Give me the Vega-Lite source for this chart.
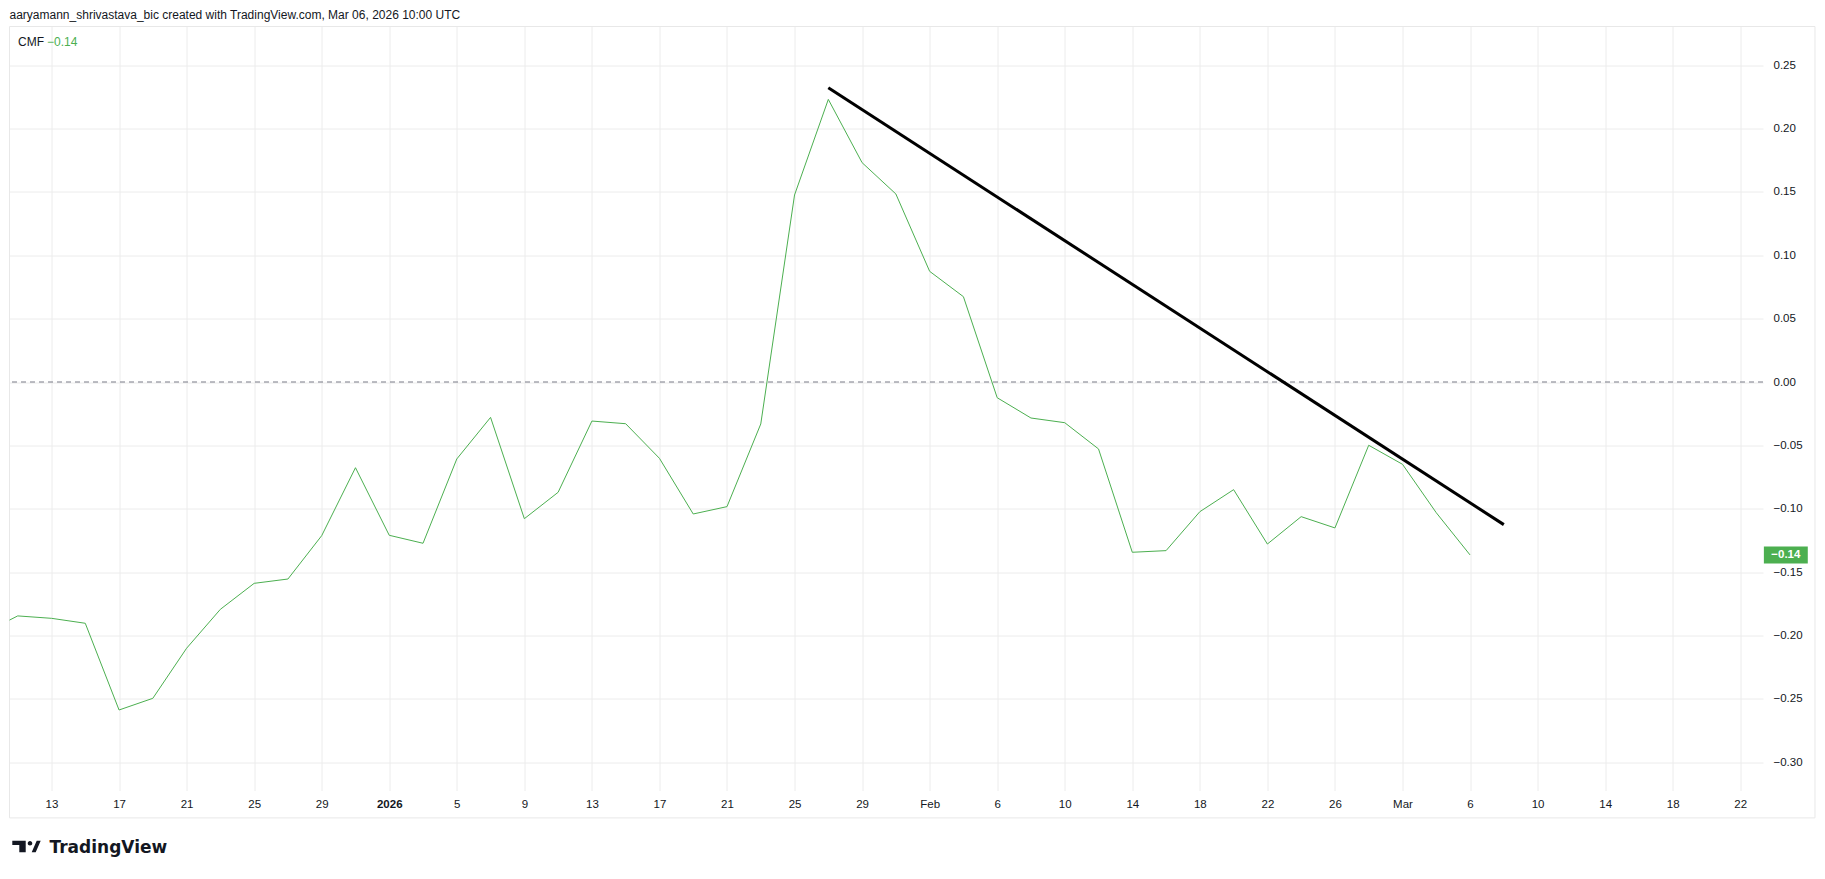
{
  "$schema": "https://vega.github.io/schema/vega-lite/v6.json",
  "background": "#ffffff",
  "autosize": {"type": "none"},
  "padding": {"left": 9.5, "top": 26.5, "right": 62, "bottom": 88.5},
  "width": 1753.5,
  "height": 764,
  "title": {
    "text": "aaryamann_shrivastava_bic created with TradingView.com, Mar 06, 2026 10:00 UTC",
    "anchor": "start",
    "frame": "group",
    "font": "Liberation Sans",
    "fontSize": 12,
    "fontWeight": "normal",
    "color": "#131722",
    "baseline": "alphabetic",
    "offset": 7,
    "dy": 12
  },
  "config": {
    "view": {"stroke": null},
    "axis": {"labelFont": "Liberation Sans", "labelColor": "#131722"}
  },
  "datasets": {
    "cmf": [
      {"bar": -2, "cmf": -0.198},
      {"bar": -1, "cmf": -0.1845},
      {"bar": 0, "cmf": -0.1864},
      {"bar": 1, "cmf": -0.1903},
      {"bar": 2, "cmf": -0.2587},
      {"bar": 3, "cmf": -0.2495},
      {"bar": 4, "cmf": -0.21},
      {"bar": 5, "cmf": -0.1793},
      {"bar": 6, "cmf": -0.1588},
      {"bar": 7, "cmf": -0.1554},
      {"bar": 8, "cmf": -0.1212},
      {"bar": 9, "cmf": -0.0676},
      {"bar": 10, "cmf": -0.1209},
      {"bar": 11, "cmf": -0.1272},
      {"bar": 12, "cmf": -0.0607},
      {"bar": 13, "cmf": -0.0279},
      {"bar": 14, "cmf": -0.1078},
      {"bar": 15, "cmf": -0.087},
      {"bar": 16, "cmf": -0.0308},
      {"bar": 17, "cmf": -0.0329},
      {"bar": 18, "cmf": -0.0602},
      {"bar": 19, "cmf": -0.1041},
      {"bar": 20, "cmf": -0.0983},
      {"bar": 21, "cmf": -0.0331},
      {"bar": 22, "cmf": 0.1475},
      {"bar": 23, "cmf": 0.2229},
      {"bar": 24, "cmf": 0.173},
      {"bar": 25, "cmf": 0.1483},
      {"bar": 26, "cmf": 0.0873},
      {"bar": 27, "cmf": 0.0673},
      {"bar": 28, "cmf": -0.0124},
      {"bar": 29, "cmf": -0.0284},
      {"bar": 30, "cmf": -0.0321},
      {"bar": 31, "cmf": -0.0528},
      {"bar": 32, "cmf": -0.1343},
      {"bar": 33, "cmf": -0.133},
      {"bar": 34, "cmf": -0.1023},
      {"bar": 35, "cmf": -0.0849},
      {"bar": 36, "cmf": -0.1278},
      {"bar": 37, "cmf": -0.1062},
      {"bar": 38, "cmf": -0.1151},
      {"bar": 39, "cmf": -0.0499},
      {"bar": 40, "cmf": -0.0649},
      {"bar": 41, "cmf": -0.1031},
      {"bar": 42, "cmf": -0.1364}
    ],
    "trend": [
      {"bar": 23, "cmf": 0.2321},
      {"bar": 43, "cmf": -0.1125}
    ]
  },
  "resolve": {"axis": {"x": "independent", "y": "independent"}},
  "layer": [
    {
      "data": {"values": [{}]},
      "mark": {"type": "rect", "fill": null, "stroke": "#e8e8e8", "strokeWidth": 1, "clip": false},
      "encoding": {
        "x": {"datum": -1.2435, "type": "quantitative", "axis": null},
        "x2": {"datum": 52.213},
        "y": {"datum": 0.2804, "type": "quantitative", "axis": null},
        "y2": {"datum": -0.3438}
      }
    },
    {
      "data": {"name": "cmf"},
      "mark": {"type": "line", "color": "#4caf50", "strokeWidth": 1, "clip": true},
      "encoding": {
        "x": {
          "field": "bar", "type": "quantitative",
          "scale": {"domain": [-1.2435, 50.674], "nice": false, "zero": false},
          "axis": {
            "orient": "bottom",
            "values": [0, 2, 4, 6, 8, 10, 12, 14, 16, 18, 20, 22, 24, 26, 28, 30, 32, 34, 36, 38, 40, 42, 44, 46, 48, 50],
            "labelExpr": "['13','17','21','25','29','2026','5','9','13','17','21','25','29','Feb','6','10','14','18','22','26','Mar','6','10','14','18','22'][datum.value/2]",
            "labelFontWeight": {"condition": {"test": "datum.value == 10", "value": "bold"}, "value": "normal"},
            "labelFontSize": 11.5,
            "labelBaseline": "middle",
            "labelPadding": 13.5,
            "labelFlush": false,
            "labelOverlap": false,
            "domain": false,
            "ticks": false,
            "tickSize": 0,
            "grid": true,
            "gridColor": "#ececec",
            "title": "TradingView",
            "titleFont": "DejaVu Sans",
            "titleFontSize": 17,
            "titleFontWeight": "bold",
            "titleColor": "#131722",
            "titleAnchor": "start",
            "titleAlign": "left",
            "titleBaseline": "alphabetic",
            "titleX": 39.5,
            "titleY": 61.8
          }
        },
        "y": {
          "field": "cmf", "type": "quantitative",
          "scale": {"domain": [-0.3222, 0.2804], "nice": false, "zero": false},
          "axis": {
            "orient": "right",
            "values": [-0.3, -0.25, -0.2, -0.15, -0.1, -0.05, 0, 0.05, 0.1, 0.15, 0.2, 0.25],
            "format": ".2f",
            "labelFontSize": 11.5,
            "labelAlign": "left",
            "labelBaseline": "middle",
            "labelPadding": 10,
            "domain": false,
            "ticks": false,
            "tickSize": 0,
            "grid": true,
            "gridColor": "#ececec",
            "title": null
          }
        }
      }
    },
    {
      "data": {"values": [{}]},
      "mark": {"type": "rule", "color": "#787b86", "strokeWidth": 1, "strokeDash": [5, 4]},
      "encoding": {
        "y": {"datum": 0, "type": "quantitative", "axis": null}
      }
    },
    {
      "data": {"name": "trend"},
      "mark": {"type": "line", "color": "#000000", "strokeWidth": 3, "strokeCap": "butt"},
      "encoding": {
        "x": {"field": "bar", "type": "quantitative", "axis": null},
        "y": {"field": "cmf", "type": "quantitative", "axis": null}
      }
    },
    {
      "data": {"name": "cmf"},
      "transform": [{"filter": "datum.bar == 42"}],
      "mark": {"type": "rect", "color": "#4caf50", "height": 17, "clip": false},
      "encoding": {
        "x": {"datum": 50.7, "type": "quantitative", "axis": null},
        "x2": {"datum": 52.0},
        "y": {"field": "cmf", "type": "quantitative", "axis": null}
      }
    },
    {
      "data": {"name": "cmf"},
      "transform": [{"filter": "datum.bar == 42"}],
      "mark": {"type": "text", "color": "#ffffff", "font": "Liberation Sans", "fontSize": 11.5, "fontWeight": "bold", "align": "center", "baseline": "middle", "clip": false},
      "encoding": {
        "x": {"datum": 51.35, "type": "quantitative", "axis": null},
        "y": {"field": "cmf", "type": "quantitative", "axis": null},
        "text": {"field": "cmf", "type": "quantitative", "format": ".2f"}
      }
    },
    {
      "data": {"values": [{}]},
      "mark": {"type": "text", "text": "CMF", "color": "#131722", "font": "Liberation Sans", "fontSize": 12, "align": "left", "baseline": "middle", "dx": 8.5, "dy": 15.5},
      "encoding": {
        "x": {"datum": -1.2435, "type": "quantitative", "axis": null},
        "y": {"datum": 0.2804, "type": "quantitative", "axis": null}
      }
    },
    {
      "data": {"name": "cmf"},
      "transform": [{"filter": "datum.bar == 42"}],
      "mark": {"type": "text", "color": "#4caf50", "font": "Liberation Sans", "fontSize": 12, "align": "left", "baseline": "middle", "dx": 37.5, "dy": 15.5},
      "encoding": {
        "x": {"datum": -1.2435, "type": "quantitative", "axis": null},
        "y": {"datum": 0.2804, "type": "quantitative", "axis": null},
        "text": {"field": "cmf", "type": "quantitative", "format": ".2f"}
      }
    },
    {
      "data": {"values": [{}]},
      "mark": {
        "type": "point",
        "shape": "M -1 -0.408 L -0.056 -0.408 L -0.056 0.408 L -0.507 0.408 L -0.507 -0.106 L -1 -0.106 Z M 0.084 -0.225 A 0.162 0.162 0 1 0 0.408 -0.225 A 0.162 0.162 0 1 0 0.084 -0.225 Z M 0.366 0.408 L 0.648 0.408 L 1 -0.408 L 0.718 -0.408 Z",
        "filled": true,
        "color": "#131722",
        "opacity": 1,
        "size": 807,
        "strokeWidth": 0,
        "clip": false
      },
      "encoding": {
        "x": {"datum": -0.7402, "type": "quantitative", "axis": null},
        "y": {"datum": -0.36633, "type": "quantitative", "axis": null}
      }
    }
  ]
}
